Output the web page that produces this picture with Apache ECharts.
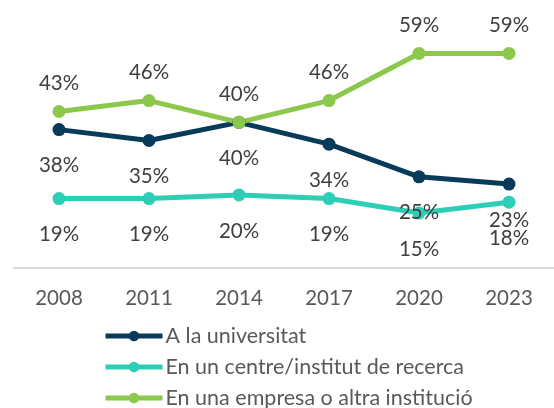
<!DOCTYPE html>
<html>
<head>
<meta charset="utf-8">
<script src="https://cdn.jsdelivr.net/npm/echarts@6/dist/echarts.min.js"></script>
<style>
  html, body { margin: 0; padding: 0; background: #ffffff; }
  #chart { width: 554px; height: 408px; }
</style>
</head>
<body>
<div id="chart"></div>
<script>
const years = ["2008", "2011", "2014", "2017", "2020", "2023"]
const universitat = [38, 35, 40, 34, 25, 23]
const centreRecerca = [19, 19, 20, 19, 15, 18]
const empresa = [43, 46, 40, 46, 59, 59]
const seriesNames = ["A la universitat", "En un centre/institut de recerca", "En una empresa o altra institució"]

const labelColor = "#404040"
const axisColor = "#595959"
const font = "Lato"

function lineSeries(name, data, color, labelPos) {
  return {
    name: name,
    type: "line",
    data: data,
    symbol: "circle",
    symbolSize: 13,
    lineStyle: { color: color, width: 5 },
    itemStyle: { color: color },
    label: {
      show: true,
      position: labelPos,
      distance: labelPos === "top" ? 11 : 19,
      formatter: "{c}%",
      color: labelColor,
      fontFamily: font,
      fontSize: 20.5
    }
  }
}

// one legend per row so the column never wraps at the bottom edge
const legends = seriesNames.map((name, i) => ({
  left: 103,
  top: 325 + i * 31,
  padding: 0,
  itemWidth: 57,
  itemHeight: 13,
  lineStyle: { width: 5 },
  textStyle: { color: axisColor, fontFamily: font, fontSize: 21.5, lineHeight: 20, padding: [0, 0, 0, -2] },
  data: [name]
}))

const chart = echarts.init(document.getElementById("chart"))
chart.setOption({
  animation: false,
  grid: {
    left: 14,
    right: -9,
    top: 13.5,
    height: 254
  },
  legend: legends,
  xAxis: {
    type: "category",
    data: years,
    boundaryGap: true,
    axisLine: { lineStyle: { color: "#d9d9d9", width: 2 } },
    axisTick: { show: false },
    axisLabel: { color: axisColor, fontFamily: font, fontSize: 20.5, margin: 20 }
  },
  yAxis: {
    type: "value",
    min: 0,
    max: 70,
    show: false,
    splitLine: { show: false }
  },
  series: [
    lineSeries(seriesNames[0], universitat, "#083a59", "bottom"),
    lineSeries(seriesNames[1], centreRecerca, "#2ecdb6", "bottom"),
    lineSeries(seriesNames[2], empresa, "#8cc84b", "top")
  ]
})
</script>
</body>
</html>
